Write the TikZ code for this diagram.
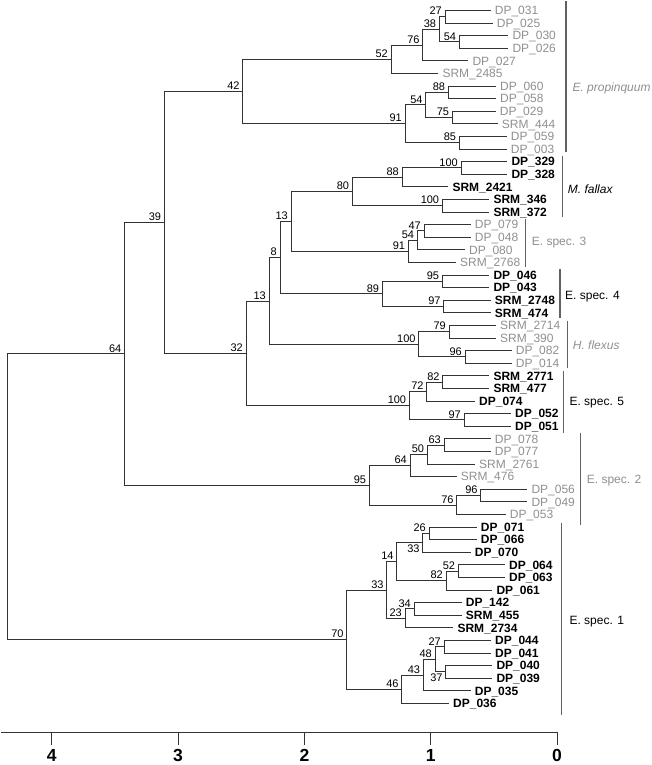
\documentclass[tikz,border=0pt]{standalone}
\usepackage{fontspec}
\setmainfont{Liberation Sans}
\definecolor{tipgray}{gray}{0.56}
\definecolor{linegray}{gray}{0.2}
\tikzset{
    elbow/.style =    {draw=linegray,
                      line width=0.85pt,
                      to path={|- (\tikztotarget)}},
    taxon/.style =    {anchor=west,
                      inner xsep=4pt,
                      inner ysep=0pt,
                      text height=8.6pt,
                      text depth=0pt,
                      text=tipgray,
                      font=\fontsize{12}{12}\selectfont},
    taxonb/.style =   {taxon,
                      text=black,
                      font=\fontsize{12}{12}\selectfont\bfseries},
    bootval/.style =  {inner xsep=3pt,
                      inner ysep=1.5pt,
                      text=black,
                      font=\fontsize{11}{11}\selectfont},
    cladebar/.style = {draw=black!62,
                      line width=1.1pt},
    cladename/.style = {anchor=base west,
                      inner sep=0pt,
                      font=\fontsize{12}{12}\selectfont},
    axislab/.style =  {anchor=base,
                      inner sep=0pt,
                      text depth=0pt,
                      font=\fontsize{17.5}{17.5}\selectfont\bfseries}}

\begin{document}
\begin{tikzpicture}[x=1pt,y=-1pt]
\useasboundingbox (0,0) rectangle (651,765);

% E. propinquum
\node[taxon] (DP031)   at (490.7,10.4)  {DP\_031};
\node[taxon] (DP025)   at (492.7,23.0)  {DP\_025};
\node[taxon] (DP030)   at (508.3,35.6)  {DP\_030};
\node[taxon] (DP026)   at (508.3,48.2)  {DP\_026};
\node[taxon] (DP027)   at (468.3,60.8)  {DP\_027};
\node[taxon] (SRM2485) at (438.3,73.4)  {SRM\_2485};
\node[taxon] (DP060)   at (496.0,86.0)  {DP\_060};
\node[taxon] (DP058)   at (496.0,98.6)  {DP\_058};
\node[taxon] (DP029)   at (495.7,111.2) {DP\_029};
\node[taxon] (SRM444)  at (497.7,123.8) {SRM\_444};
\node[taxon] (DP059)   at (506.7,136.4) {DP\_059};
\node[taxon] (DP003)   at (506.7,149.0) {DP\_003};
% M. fallax
\node[taxonb] (DP329)   at (507.3,161.6) {DP\_329};
\node[taxonb] (DP328)   at (507.3,174.2) {DP\_328};
\node[taxonb] (SRM2421) at (448.3,186.8) {SRM\_2421};
\node[taxonb] (SRM346)  at (489.3,199.4) {SRM\_346};
\node[taxonb] (SRM372)  at (489.3,212.0) {SRM\_372};
% E. spec. 3
\node[taxon] (DP079)   at (470.7,224.6) {DP\_079};
\node[taxon] (DP048)   at (470.7,237.2) {DP\_048};
\node[taxon] (DP080)   at (465.0,249.8) {DP\_080};
\node[taxon] (SRM2768) at (456.0,262.4) {SRM\_2768};
% E. spec. 4
\node[taxonb] (DP046)   at (489.3,275.0) {DP\_046};
\node[taxonb] (DP043)   at (489.3,287.6) {DP\_043};
\node[taxonb] (SRM2748) at (490.7,300.2) {SRM\_2748};
\node[taxonb] (SRM474)  at (490.7,312.8) {SRM\_474};
% H. flexus
\node[taxon] (SRM2714) at (496.0,325.4) {SRM\_2714};
\node[taxon] (SRM390)  at (496.0,338.0) {SRM\_390};
\node[taxon] (DP082)   at (511.7,350.6) {DP\_082};
\node[taxon] (DP014)   at (511.7,363.2) {DP\_014};
% E. spec. 5
\node[taxonb] (SRM2771) at (489.3,375.8) {SRM\_2771};
\node[taxonb] (SRM477)  at (489.3,388.4) {SRM\_477};
\node[taxonb] (DP074)   at (475.0,401.0) {DP\_074};
\node[taxonb] (DP052)   at (511.0,413.6) {DP\_052};
\node[taxonb] (DP051)   at (511.0,426.2) {DP\_051};
% E. spec. 2
\node[taxon] (DP078)   at (490.7,438.8) {DP\_078};
\node[taxon] (DP077)   at (490.7,451.4) {DP\_077};
\node[taxon] (SRM2761) at (475.0,464.0) {SRM\_2761};
\node[taxon] (SRM476)  at (456.7,476.6) {SRM\_476};
\node[taxon] (DP056)   at (527.3,489.2) {DP\_056};
\node[taxon] (DP049)   at (527.3,501.8) {DP\_049};
\node[taxon] (DP053)   at (505.7,514.4) {DP\_053};
% E. spec. 1
\node[taxonb] (DP071)   at (476.7,527.0) {DP\_071};
\node[taxonb] (DP066)   at (476.7,539.6) {DP\_066};
\node[taxonb] (DP070)   at (470.7,552.2) {DP\_070};
\node[taxonb] (DP064)   at (505.0,564.8) {DP\_064};
\node[taxonb] (DP063)   at (505.0,577.4) {DP\_063};
\node[taxonb] (DP061)   at (492.3,590.0) {DP\_061};
\node[taxonb] (DP142)   at (461.7,602.6) {DP\_142};
\node[taxonb] (SRM455)  at (461.7,615.2) {SRM\_455};
\node[taxonb] (SRM2734) at (453.3,627.8) {SRM\_2734};
\node[taxonb] (DP044)   at (491.0,640.4) {DP\_044};
\node[taxonb] (DP041)   at (491.0,653.0) {DP\_041};
\node[taxonb] (DP040)   at (492.3,665.6) {DP\_040};
\node[taxonb] (DP039)   at (492.3,678.2) {DP\_039};
\node[taxonb] (DP035)   at (470.7,690.8) {DP\_035};
\node[taxonb] (DP036)   at (449.0,703.4) {DP\_036};

% internal nodes with support values
\coordinate[label={[bootval]above left:27}]  (n27a)  at (445.0,16.7);
\coordinate[label={[bootval]above left:54}]  (n54a)  at (459.3,41.9);
\coordinate[label={[bootval]above left:38}]  (n38)   at (439.3,29.3);
\coordinate[label={[bootval]above left:76}]  (n76a)  at (422.7,45.05);
\coordinate[label={[bootval]above left:52}]  (n52a)  at (391.0,59.2);
\coordinate[label={[bootval]above left:88}]  (n88a)  at (448.3,92.3);
\coordinate[label={[bootval]above left:75}]  (n75)   at (452.3,117.5);
\coordinate[label={[bootval]above left:54}]  (n54b)  at (425.7,104.9);
\coordinate[label={[bootval]above left:85}]  (n85)   at (459.3,142.7);
\coordinate[label={[bootval]above left:91}]  (n91a)  at (405.0,123.8);
\coordinate[label={[bootval]above left:42}]  (n42)   at (242.7,91.5);
\coordinate[label={[bootval]above left:100}] (n100a) at (461.0,167.9);
\coordinate[label={[bootval]above left:88}]  (n88b)  at (402.0,177.35);
\coordinate[label={[bootval]above left:100}] (n100b) at (442.3,205.7);
\coordinate[label={[bootval]above left:80}]  (n80)   at (352.3,191.5);
\coordinate[label={[bootval]above left:47}]  (n47)   at (424.0,230.9);
\coordinate[label={[bootval]above left:54}]  (n54c)  at (417.3,240.35);
\coordinate[label={[bootval]above left:91}]  (n91b)  at (408.3,251.4);
\coordinate[label={[bootval]above left:13}]  (n13a)  at (291.0,221.45);
\coordinate[label={[bootval]above left:95}]  (n95a)  at (442.3,281.3);
\coordinate[label={[bootval]above left:97}]  (n97a)  at (443.7,306.5);
\coordinate[label={[bootval]above left:89}]  (n89)   at (382.3,293.9);
\coordinate[label={[bootval]above left:8}]   (n8)    at (280.0,257.7);
\coordinate[label={[bootval]above left:79}]  (n79)   at (449.0,331.7);
\coordinate[label={[bootval]above left:96}]  (n96a)  at (465.0,356.9);
\coordinate[label={[bootval]above left:100}] (n100c) at (418.7,344.3);
\coordinate[label={[bootval]above left:13}]  (n13b)  at (269.0,301.0);
\coordinate[label={[bootval]above left:82}]  (n82a)  at (442.7,382.1);
\coordinate[label={[bootval]above left:72}]  (n72)   at (426.7,391.55);
\coordinate[label={[bootval]above left:97}]  (n97b)  at (464.0,419.9);
\coordinate[label={[bootval]above left:100}] (n100d) at (409.3,405.7);
\coordinate[label={[bootval]above left:32}]  (n32)   at (246.0,353.4);
\coordinate[label={[bootval]above left:39}]  (n39)   at (164.3,222.5);
\coordinate[label={[bootval]above left:63}]  (n63)   at (444.0,445.1);
\coordinate[label={[bootval]above left:50}]  (n50)   at (427.3,454.55);
\coordinate[label={[bootval]above left:64}]  (n64b)  at (410.0,465.6);
\coordinate[label={[bootval]above left:96}]  (n96b)  at (480.7,495.5);
\coordinate[label={[bootval]above left:76}]  (n76b)  at (456.7,504.95);
\coordinate[label={[bootval]above left:95}]  (n95b)  at (369.3,485.3);
\coordinate[label={[bootval]above left:64}]  (n64a)  at (124.5,353.9);
\coordinate[label={[bootval]above left:26}]  (n26)   at (429.0,533.3);
\coordinate[label={[bootval]below left:33}]  (n33a)  at (422.7,542.75);
\coordinate[label={[bootval]above left:52}]  (n52b)  at (458.3,571.1);
\coordinate[label={[bootval]above left:82}]  (n82b)  at (446.0,580.55);
\coordinate[label={[bootval]above left:14}]  (n14)   at (396.7,561.65);
\coordinate[label={[bootval]above left:34}]  (n34)   at (414.0,608.9);
\coordinate[label={[bootval]above left:23}]  (n23)   at (405.0,618.35);
\coordinate[label={[bootval]above left:33}]  (n33b)  at (386.7,590.0);
\coordinate[label={[bootval]above left:27}]  (n27b)  at (444.0,646.7);
\coordinate[label={[bootval]below left:37}]  (n37)   at (445.7,671.9);
\coordinate[label={[bootval]above left:48}]  (n48)   at (435.0,659.3);
\coordinate[label={[bootval]above left:43}]  (n43)   at (423.3,675.05);
\coordinate[label={[bootval]above left:46}]  (n46)   at (401.7,689.2);
\coordinate[label={[bootval]above left:70}]  (n70)   at (346.7,639.6);
\coordinate (root) at (7.0,496.8);

% branches
\path (n27a) edge[elbow] (DP031) edge[elbow] (DP025)
      (n54a) edge[elbow] (DP030) edge[elbow] (DP026)
      (n38) edge[elbow] (n27a) edge[elbow] (n54a)
      (n76a) edge[elbow] (n38) edge[elbow] (DP027)
      (n52a) edge[elbow] (n76a) edge[elbow] (SRM2485)
      (n88a) edge[elbow] (DP060) edge[elbow] (DP058)
      (n75) edge[elbow] (DP029) edge[elbow] (SRM444)
      (n54b) edge[elbow] (n88a) edge[elbow] (n75)
      (n85) edge[elbow] (DP059) edge[elbow] (DP003)
      (n91a) edge[elbow] (n54b) edge[elbow] (n85)
      (n42) edge[elbow] (n52a) edge[elbow] (n91a);
\path (n100a) edge[elbow] (DP329) edge[elbow] (DP328)
      (n88b) edge[elbow] (n100a) edge[elbow] (SRM2421)
      (n100b) edge[elbow] (SRM346) edge[elbow] (SRM372)
      (n80) edge[elbow] (n88b) edge[elbow] (n100b)
      (n47) edge[elbow] (DP079) edge[elbow] (DP048)
      (n54c) edge[elbow] (n47) edge[elbow] (DP080)
      (n91b) edge[elbow] (n54c) edge[elbow] (SRM2768)
      (n13a) edge[elbow] (n80) edge[elbow] (n91b)
      (n95a) edge[elbow] (DP046) edge[elbow] (DP043)
      (n97a) edge[elbow] (SRM2748) edge[elbow] (SRM474)
      (n89) edge[elbow] (n95a) edge[elbow] (n97a)
      (n8) edge[elbow] (n13a) edge[elbow] (n89)
      (n79) edge[elbow] (SRM2714) edge[elbow] (SRM390)
      (n96a) edge[elbow] (DP082) edge[elbow] (DP014)
      (n100c) edge[elbow] (n79) edge[elbow] (n96a)
      (n13b) edge[elbow] (n8) edge[elbow] (n100c)
      (n82a) edge[elbow] (SRM2771) edge[elbow] (SRM477)
      (n72) edge[elbow] (n82a) edge[elbow] (DP074)
      (n97b) edge[elbow] (DP052) edge[elbow] (DP051)
      (n100d) edge[elbow] (n72) edge[elbow] (n97b)
      (n32) edge[elbow] (n13b) edge[elbow] (n100d)
      (n39) edge[elbow] (n42) edge[elbow] (n32);
\path (n63) edge[elbow] (DP078) edge[elbow] (DP077)
      (n50) edge[elbow] (n63) edge[elbow] (SRM2761)
      (n64b) edge[elbow] (n50) edge[elbow] (SRM476)
      (n96b) edge[elbow] (DP056) edge[elbow] (DP049)
      (n76b) edge[elbow] (n96b) edge[elbow] (DP053)
      (n95b) edge[elbow] (n64b) edge[elbow] (n76b)
      (n64a) edge[elbow] (n39) edge[elbow] (n95b);
\path (n26) edge[elbow] (DP071) edge[elbow] (DP066)
      (n33a) edge[elbow] (n26) edge[elbow] (DP070)
      (n52b) edge[elbow] (DP064) edge[elbow] (DP063)
      (n82b) edge[elbow] (n52b) edge[elbow] (DP061)
      (n14) edge[elbow] (n33a) edge[elbow] (n82b)
      (n34) edge[elbow] (DP142) edge[elbow] (SRM455)
      (n23) edge[elbow] (n34) edge[elbow] (SRM2734)
      (n33b) edge[elbow] (n14) edge[elbow] (n23)
      (n27b) edge[elbow] (DP044) edge[elbow] (DP041)
      (n37) edge[elbow] (DP040) edge[elbow] (DP039)
      (n48) edge[elbow] (n27b) edge[elbow] (n37)
      (n43) edge[elbow] (n48) edge[elbow] (DP035)
      (n46) edge[elbow] (n43) edge[elbow] (DP036)
      (n70) edge[elbow] (n33b) edge[elbow] (n46)
      (root) edge[elbow] (n64a) edge[elbow] (n70);

% clades
\draw[cladebar] (566.0,1.5) -- (566.0,151.7);
\node[cladename, text=tipgray, font=\fontsize{12}{12}\selectfont\itshape] (Eprop) at (572.3,91.7) {E. propinquum};
\draw[cladebar] (562.3,155.7) -- (562.3,216.7);
\node[cladename, font=\fontsize{12}{12}\selectfont\itshape] (Mfal) at (567.7,193.3) {M. fallax};
\draw[cladebar] (525.3,219.3) -- (525.3,266.7);
\node[cladename, text=tipgray] (Esp3) at (531.7,245.0) {E. spec. 3};
\draw[cladebar] (560.0,269.3) -- (560.0,318.3);
\node[cladename] (Esp4) at (565.0,299.3) {E. spec. 4};
\draw[cladebar] (567.3,320.7) -- (567.3,368.3);
\node[cladename, text=tipgray, font=\fontsize{12}{12}\selectfont\itshape] (Hflx) at (572.7,349.3) {H. flexus};
\draw[cladebar] (563.3,371.0) -- (563.3,432.7);
\node[cladename] (Esp5) at (569.3,405.3) {E. spec. 5};
\draw[cladebar] (580.7,433.3) -- (580.7,525.0);
\node[cladename, text=tipgray] (Esp2) at (586.7,483.3) {E. spec. 2};
\draw[cladebar] (561.7,523.3) -- (561.7,715.0);
\node[cladename] (Esp1) at (569.3,624.0) {E. spec. 1};

% distance axis
\draw[draw=linegray, line width=0.85pt] (1,732.3) -- (557,732.3);
\foreach \d in {0,...,4} {
    \draw[draw=linegray, line width=0.85pt] ({557-126.3*\d},732.3) -- ++(0,12.7);
    \node[axislab] (tick\d) at ({557-126.3*\d},761.8) {\d};
}
\end{tikzpicture}
\end{document}
